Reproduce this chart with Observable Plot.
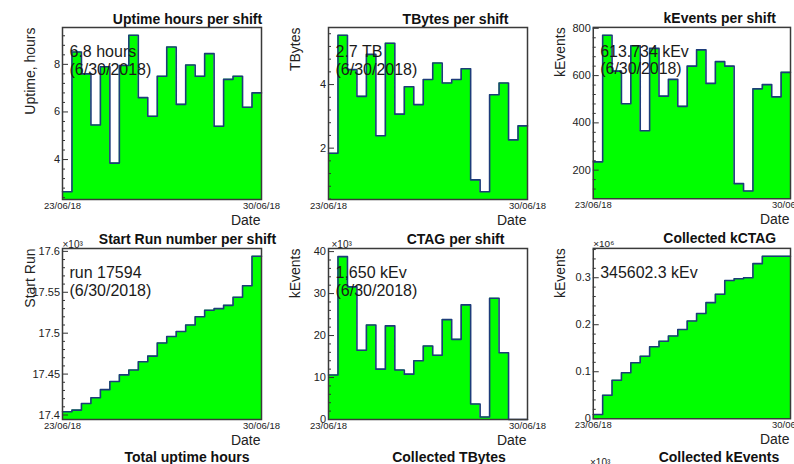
<!DOCTYPE html>
<html>
<head>
<meta charset="utf-8">
<script src="https://cdn.jsdelivr.net/npm/d3@7"></script>
<script src="https://cdn.jsdelivr.net/npm/@observablehq/plot@0.6"></script>
<style>
  body { margin: 0; background: #fff; }
  #root { position: relative; width: 794px; height: 464px; overflow: hidden; background: #fff;
          font-family: "Liberation Sans", Arial, Helvetica, sans-serif; }
  .pad { position: absolute; }
  .pad svg { overflow: visible; }
  .t3 { position: absolute; font-weight: bold; font-size: 14px; line-height: 14px; color: #111;
        transform: translateX(-50%); white-space: nowrap; }
  .e3 { position: absolute; font-size: 10px; line-height: 10px; color: #222; white-space: nowrap; }
</style>
</head>
<body>
<div id="root"></div>
<script>
// ---- data (21 shifts, 23/06/18 -> 30/06/18) ----
const dateTickBins = [0, 21];
const dateTickLabels = ["23/06/18", "30/06/18"];

const uptimeHours = [2.65, 8.52, 7.6, 5.45, 7.9, 3.85, 7.95, 9.22, 6.6, 5.82, 7.5, 8.73, 6.32, 7.97, 7.5, 8.45, 5.4, 7.37, 7.5, 6.2, 6.8];
const tbytes = [1.84, 5.55, 4.47, 3.63, 4.95, 2.39, 5.3, 3.07, 3.93, 3.37, 4.16, 4.68, 4.05, 4.16, 4.5, 1.0, 0.63, 3.68, 4.05, 2.26, 2.7];
const kEvents = [235, 771, 619, 481, 726, 367, 715, 513, 584, 470, 640, 709, 567, 659, 640, 143, 112, 544, 562, 510, 613.734];
const startRun = [17404, 17406, 17414, 17421, 17431, 17441, 17449, 17455, 17465, 17472, 17488, 17496, 17502, 17510, 17520, 17528, 17530, 17534, 17544, 17558, 17594];
const ctag = [10600, 38800, 31600, 16500, 22500, 12000, 22300, 11800, 10800, 14000, 17500, 15300, 23800, 19100, 27300, 3700, 600, 28900, 15900, 0, 0];
const collectedKctag = [9000, 50000, 82000, 98000, 119000, 133000, 153000, 165000, 176000, 190000, 208000, 224000, 247000, 265000, 294000, 298000, 300000, 330000, 345602.3, 345602.3, 345602.3];

const uptimeTicks = [4, 6, 8];
const tbytesTicks = [2, 4];
const kEventsTicks = [200, 400, 600, 800];
const startRunTicks = [17.4, 17.45, 17.5, 17.55, 17.6];
const ctagTicks = [0, 10, 20, 30, 40];
const kctagTicks = [0, 0.1, 0.2, 0.3];

const titles = ["Uptime hours per shift", "TBytes per shift", "kEvents per shift",
                "Start Run number per shift", "CTAG per shift", "Collected kCTAG"];
const yTitles = ["Uptime, hours", "TBytes", "kEvents", "Start Run", "kEvents", "kEvents"];
const notes = ["6.8 hours\n(6/30/2018)", "2.7 TB\n(6/30/2018)", "613.734 kEv\n(6/30/2018)",
               "run 17594\n(6/30/2018)", "1,650 kEv\n(6/30/2018)", "345602.3 kEv"];
const exponents = [null, null, null, "×10³", "×10³", "×10⁶"];
const scales = [1, 1, 1, 1e3, 1e3, 1e6];
const series = [uptimeHours, tbytes, kEvents, startRun, ctag, collectedKctag];
const majorTicks = [uptimeTicks, tbytesTicks, kEventsTicks, startRunTicks, ctagTicks, kctagTicks];

const row3Titles = ["Total uptime hours", "Collected TBytes", "Collected kEvents"];

// ---- layout ----
const root = document.getElementById("root");
const padW = 265, padH = 220;
const FONT = '"Liberation Sans", Arial, Helvetica, sans-serif';
const titleCx = [187, 190, 190];

series.forEach((raw, k) => {
  const col = k % 3, row = Math.floor(k / 3);
  const ml = col === 0 ? 62 : 63, mr = col === 1 ? 3 : 4;
  const mt = row === 0 ? 27 : 28, mb = 21;
  const vals = raw.map(v => v / scales[k]);
  const mn = d3.min(vals), mx = d3.max(vals), rng = mx - mn;
  let lo = mn - 0.05 * rng; const hi = mx + 0.05 * rng;
  if (mn >= 0 && lo < 0) lo = 0;
  const pts = vals.map((v, i) => ({x: i, y: v}));
  pts.push({x: vals.length, y: vals[vals.length - 1]});
  const majors = majorTicks[k];
  const step = majors[1] - majors[0];
  const minors = d3.range(Math.ceil(lo / (step / 5) - 1e-9), Math.floor(hi / (step / 5) + 1e-9) + 1)
    .map(j => j * step / 5)
    .filter(v => v >= lo && v <= hi && !majors.some(m => Math.abs(m - v) < step / 50));
  const fw = padW - ml - mr;

  const marks = [
    Plot.areaY(pts, {x: "x", y1: () => lo, y2: "y", curve: "step-after", fill: "#00ff00"}),
    Plot.line(pts, {x: "x", y: "y", curve: "step-after", stroke: "#1d3c7a", strokeWidth: 1.6}),
    Plot.tickY(majors, {y: d => d, insetRight: fw - 6, stroke: "#333", strokeWidth: 1}),
    Plot.tickY(minors, {y: d => d, insetRight: fw - 3, stroke: "#333", strokeWidth: 1}),
    Plot.frame({stroke: "#3a3a3a", strokeWidth: 1.5}),
    Plot.text(majors, {y: d => d, frameAnchor: "left", textAnchor: "end", dx: -2.5,
      text: d => String(d), fontSize: 11, fill: "#222"}),
    Plot.text(dateTickBins, {x: d => d, frameAnchor: "bottom", lineAnchor: "bottom", dy: 9,
      text: (d, i) => dateTickLabels[i], fontSize: 9.5, fill: "#222"}),
    Plot.text([titles[k]], {frameAnchor: "top-left", dx: titleCx[col] - ml, dy: 23 - mt,
      lineAnchor: "bottom", textAnchor: "middle", fontWeight: "bold", fontSize: 14, fill: "#111"}),
    Plot.text([yTitles[k]], {frameAnchor: "top-left", dx: 25 - ml, rotate: -90,
      textAnchor: "end", fontSize: 14, fill: "#222"}),
    Plot.text(["Date"], {frameAnchor: "bottom-right", dx: -1, dy: 25, lineAnchor: "bottom",
      textAnchor: "end", fontSize: 14, fill: "#222"}),
    Plot.text([notes[k]], {frameAnchor: "top-left", dx: 7, dy: 17, lineAnchor: "top",
      textAnchor: "start", fontSize: 16, lineHeight: 1.1, fill: "#1a1a1a"})
  ];
  if (exponents[k]) {
    marks.push(Plot.text([exponents[k]], {frameAnchor: "top-left", dx: col === 1 ? 3 : 0, dy: -1,
      lineAnchor: "bottom", textAnchor: "start", fontSize: 10, fill: "#222"}));
  }

  const chart = Plot.plot({
    width: padW, height: padH,
    marginLeft: ml, marginRight: mr, marginTop: mt, marginBottom: mb,
    x: {domain: [0, vals.length], axis: null},
    y: {domain: [lo, hi], axis: null},
    style: {background: "transparent", overflow: "visible", fontFamily: FONT},
    marks
  });
  const div = document.createElement("div");
  div.className = "pad";
  div.style.left = (col * padW) + "px";
  div.style.top = (row * padH) + "px";
  div.appendChild(chart);
  root.appendChild(div);
});

// third row (cut off at the bottom of the picture)
const row3Cx = [187, 449, 719];
row3Titles.forEach((t, c) => {
  const d = document.createElement("div");
  d.className = "t3";
  d.textContent = t;
  d.style.left = row3Cx[c] + "px";
  d.style.top = "450px";
  root.appendChild(d);
});
const e3 = document.createElement("div");
e3.className = "e3";
e3.textContent = "×10³";
e3.style.left = "590px";
e3.style.top = "458px";
root.appendChild(e3);
</script>
</body>
</html>
